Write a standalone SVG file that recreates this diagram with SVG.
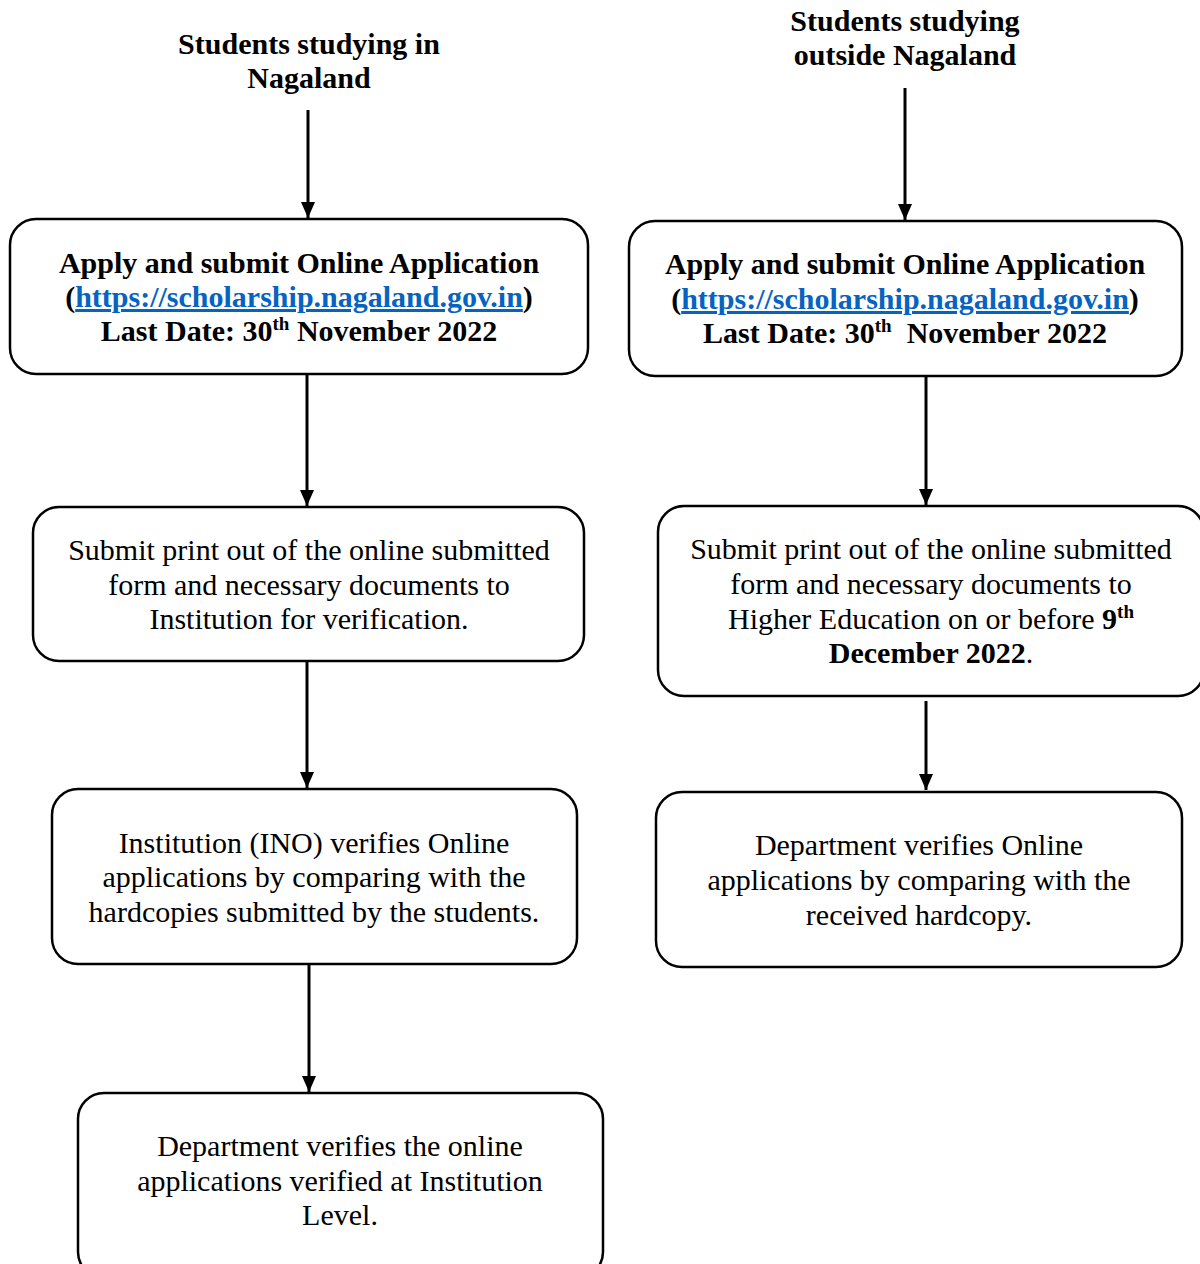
<svg xmlns="http://www.w3.org/2000/svg" width="1200" height="1264" viewBox="0 0 1200 1264">
<style>
.box{fill:#fff;stroke:#000;stroke-width:2.5}
.t{font-family:"Liberation Serif","Times New Roman",serif;font-size:30px;fill:#000;text-anchor:middle}
.b{font-weight:bold}
.link{fill:#0563C1;text-decoration:underline}
.c{stroke:#000;stroke-width:3;fill:none;marker-end:url(#ah)}
.sup{font-size:19px}
</style>
<defs>
<marker id="ah" markerUnits="userSpaceOnUse" markerWidth="16" markerHeight="14" refX="16" refY="7" orient="auto" viewBox="0 0 16 14">
<path d="M0,0 L16,7 L0,14 Z" fill="#000"/>
</marker>
</defs>
<rect width="1200" height="1264" fill="#fff"/>
<g id="connectors">
<line class="c" x1="308" y1="110" x2="308" y2="218"/>
<line class="c" x1="307" y1="374" x2="307" y2="506"/>
<line class="c" x1="307" y1="657" x2="307" y2="788"/>
<line class="c" x1="309" y1="964" x2="309" y2="1092"/>
<line class="c" x1="905" y1="88" x2="905" y2="220"/>
<line class="c" x1="926" y1="376" x2="926" y2="505"/>
<line class="c" x1="926" y1="701" x2="926" y2="790"/>
</g>
<g id="head-left">
<text class="t b" x="309" y="54">Students studying in</text>
<text class="t b" x="309" y="88">Nagaland</text>
</g>
<g id="head-right">
<text class="t b" x="905" y="31">Students studying</text>
<text class="t b" x="905" y="65">outside Nagaland</text>
</g>
<g id="l1">
<rect class="box" x="10" y="219" width="578" height="155" rx="26"/>
<text class="t b" x="299" y="273">Apply and submit Online Application</text>
<text class="t b" x="299" y="307">(<tspan class="link">https://scholarship.nagaland.gov.in</tspan>)</text>
<text class="t b" x="299" y="341">Last Date: 30<tspan class="sup" dy="-11">th</tspan><tspan dy="11"> November 2022</tspan></text>
</g>
<g id="r1">
<rect class="box" x="629" y="221" width="553" height="155" rx="26"/>
<text class="t b" x="905" y="274">Apply and submit Online Application</text>
<text class="t b" x="905" y="309">(<tspan class="link">https://scholarship.nagaland.gov.in</tspan>)</text>
<text class="t b" x="905" y="343" xml:space="preserve">Last Date: 30<tspan class="sup" dy="-11">th</tspan><tspan dy="11">  November 2022</tspan></text>
</g>
<g id="l2">
<rect class="box" x="33" y="507" width="551" height="154" rx="26"/>
<text class="t" x="309" y="560">Submit print out of the online submitted</text>
<text class="t" x="309" y="595">form and necessary documents to</text>
<text class="t" x="309" y="629">Institution for verification.</text>
</g>
<g id="r2">
<rect class="box" x="658" y="506" width="546" height="190" rx="26"/>
<text class="t" x="931" y="559">Submit print out of the online submitted</text>
<text class="t" x="931" y="594">form and necessary documents to</text>
<text class="t" x="931" y="629">Higher Education on or before <tspan class="b">9</tspan><tspan class="b sup" dy="-11">th</tspan></text>
<text class="t" x="931" y="663"><tspan class="b">December 2022</tspan>.</text>
</g>
<g id="l3">
<rect class="box" x="52" y="789" width="525" height="175" rx="26"/>
<text class="t" x="314" y="853">Institution (INO) verifies Online</text>
<text class="t" x="314" y="887">applications by comparing with the</text>
<text class="t" x="314" y="922">hardcopies submitted by the students.</text>
</g>
<g id="r3">
<rect class="box" x="656" y="792" width="526" height="175" rx="26"/>
<text class="t" x="919" y="855">Department verifies Online</text>
<text class="t" x="919" y="890">applications by comparing with the</text>
<text class="t" x="919" y="925">received hardcopy.</text>
</g>
<g id="l4">
<rect class="box" x="78" y="1093" width="525" height="185" rx="26"/>
<text class="t" x="340" y="1156">Department verifies the online</text>
<text class="t" x="340" y="1191">applications verified at Institution</text>
<text class="t" x="340" y="1225">Level.</text>
</g>
</svg>
